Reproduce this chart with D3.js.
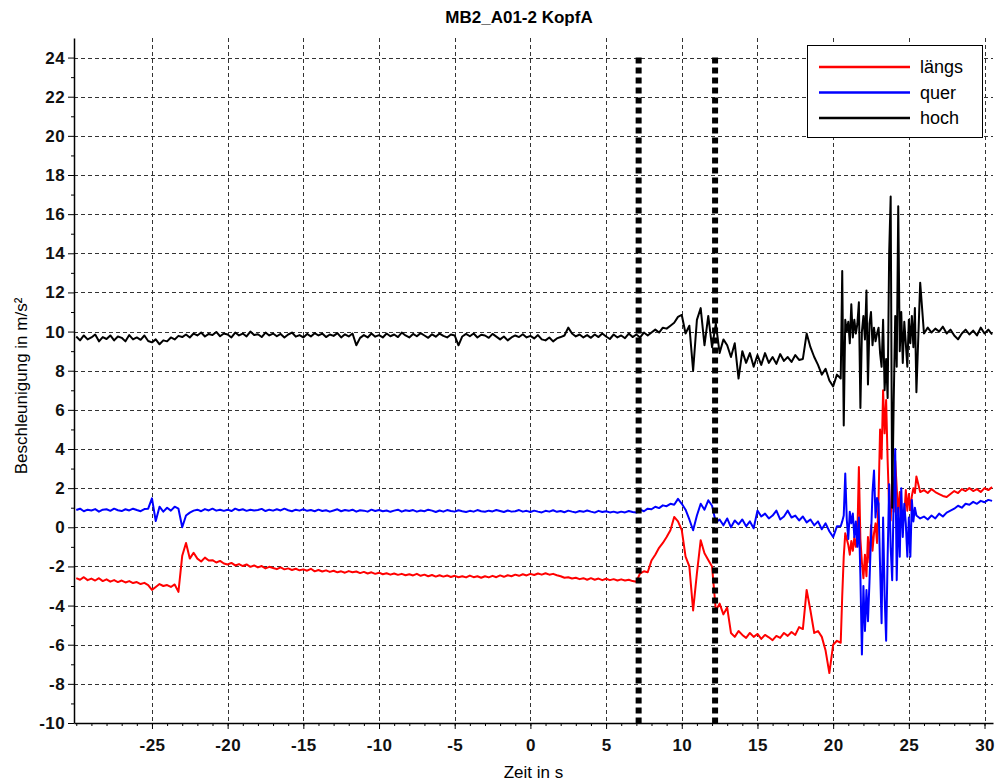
<!DOCTYPE html>
<html>
<head>
<meta charset="utf-8">
<script src="https://cdn.jsdelivr.net/npm/d3@7"></script>
<style>
  body { margin: 0; background: #fff; }
  svg { display: block; font-family: "Liberation Sans", Arial, sans-serif; }
  .axis text { font-size: 17px; font-weight: bold; letter-spacing: 0.4px; fill: #111; }
  .grid line { stroke: #333; stroke-dasharray: 4,3; shape-rendering: crispEdges; }
</style>
</head>
<body>
<div id="chart"></div>
<script>
// Sampling segments of the recording: [start, end, step] in seconds
const timeSegments = [[-30, 20.25, 0.25], [20.5, 25.4, 0.1], [25.5, 30.5, 0.25]];

// Cab-end markers (dotted vertical lines), seconds
const markers = [7.15, 12.2];

const xTicks = [-25, -20, -15, -10, -5, 0, 5, 10, 15, 20, 25, 30];
const yTicks = [-10, -8, -6, -4, -2, 0, 2, 4, 6, 8, 10, 12, 14, 16, 18, 20, 22, 24];

// längs (red), one row per second / per segment row
const laengs = [
  -2.6, -2.68, -2.55, -2.7,   // -30
  -2.62, -2.72, -2.6, -2.75,
  -2.66, -2.78, -2.7, -2.8,
  -2.72, -2.82, -2.75, -2.85,
  -2.8, -2.9, -2.84, -2.95,   // -26
  -3.2, -3.05, -2.9, -3.0,
  -2.95, -3.05, -2.92, -3.3,
  -1.45, -0.8, -1.6, -1.3,
  -1.6, -1.75, -1.55, -1.7,
  -1.68, -1.8, -1.72, -1.85,  // -21
  -1.9, -1.82, -1.95, -1.88,
  -1.98, -1.9, -2.02, -1.95,
  -2.05, -1.98, -2.1, -2.02,
  -2.08, -2.14, -2.05, -2.15,
  -2.1, -2.18, -2.12, -2.2,   // -16
  -2.15, -2.22, -2.12, -2.25,
  -2.18, -2.26, -2.2, -2.28,
  -2.22, -2.3, -2.25, -2.32,
  -2.24, -2.3, -2.26, -2.34,
  -2.28, -2.36, -2.3, -2.38,  // -11
  -2.32, -2.4, -2.35, -2.42,
  -2.36, -2.43, -2.38, -2.45,
  -2.4, -2.46, -2.38, -2.48,
  -2.42, -2.5, -2.44, -2.52,
  -2.45, -2.52, -2.46, -2.54, // -6
  -2.48, -2.55, -2.5, -2.56,
  -2.47, -2.55, -2.5, -2.58,
  -2.5, -2.56, -2.48, -2.55,
  -2.46, -2.53, -2.45, -2.5,
  -2.42, -2.48, -2.4, -2.46,  // -1
  -2.38, -2.44, -2.36, -2.42, // 0
  -2.35, -2.42, -2.38, -2.45,
  -2.5, -2.58, -2.55, -2.62,
  -2.58, -2.65, -2.6, -2.68,
  -2.6, -2.68, -2.62, -2.7,
  -2.63, -2.7, -2.65, -2.72,  // 5
  -2.66, -2.72, -2.68, -2.75,
  -2.78, -2.35, -2.25, -2.3,
  -1.7, -1.4, -1.05, -0.8,
  -0.5, -0.15, 0.53, 0.3,
  -0.15, -1.5, -2.0, -4.25,   // 10
  -2.35, -0.66, -1.33, -1.67,
  -2.0, -4.25, -3.9, -4.45,
  -4.1, -5.4, -5.6, -5.3,
  -5.5, -5.65, -5.4, -5.6,
  -5.45, -5.7, -5.5, -5.62,   // 15
  -5.77, -5.55, -5.65, -5.4,
  -5.55, -5.35, -5.5, -5.1,
  -5.2, -3.2, -4.25, -5.4,
  -5.3, -5.6, -6.3, -7.45,
  -6.0, -5.8,                 // 20.0 - 20.25
  -5.9, -3.5, -1.5, -0.3, -0.6,                     // 20.5 - 20.9
  -0.9, -1.4, -0.7, -1.2, -0.5, -1.0, -0.4, 3.08, -0.6, -1.8,
  -2.6, -1.4, -2.5, -0.5, -1.8, 0.1, -1.2, -0.3, 0.2, -0.8,
  1.5, 5.0, 3.5, 7.0, 4.8, 6.5, 3.4, 1.0, 0.35, 2.6,
  0.8, 3.4, 2.0, 0.6, 1.8, 0.7, 0.85, 0.6, 1.9, 0.85,
  1.7, 0.87, 1.6, 2.0, 1.75,                        // 25.0 - 25.4
  2.6, 1.8,                   // 25.5 - 25.75
  1.9, 1.75, 1.95, 1.8,
  1.7, 1.6, 1.55, 1.7,
  1.85, 1.75, 1.95, 1.85,
  2.0, 1.85, 1.95, 1.8,
  2.0, 1.9, 2.05              // 30.0 - 30.5
];

// quer (blue)
const quer = [
  0.88, 0.95, 0.82, 0.9,      // -30
  0.86, 0.93, 0.8, 0.9,
  0.92, 0.84, 0.95, 0.87,
  0.83, 0.92, 0.86, 0.95,
  0.88, 0.82, 0.93, 0.95,     // -26
  1.48, 0.32, 1.05, 0.8,
  1.0, 0.85, 1.05, 0.95,
  0.0, 0.6, 0.75, 0.85,
  0.9, 0.82, 0.93, 0.86,
  0.95, 0.85, 0.9, 0.84,      // -21
  0.9, 0.83, 0.95, 0.87,
  0.92, 0.84, 0.9, 0.86,
  0.88, 0.94, 0.83, 0.9,
  0.85, 0.92, 0.86, 0.95,
  0.87, 0.82, 0.9, 0.85,      // -16
  0.92, 0.84, 0.88, 0.82,
  0.9, 0.83, 0.87, 0.8,
  0.86, 0.92, 0.82, 0.88,
  0.84, 0.9, 0.8, 0.87,
  0.85, 0.8, 0.9, 0.83,       // -11
  0.88, 0.82, 0.86, 0.79,
  0.85, 0.9, 0.8, 0.87,
  0.83, 0.88, 0.8, 0.86,
  0.82, 0.9, 0.85, 0.78,
  0.86, 0.8, 0.88, 0.83,      // -6
  0.8, 0.87, 0.82, 0.78,
  0.84, 0.8, 0.88, 0.82,
  0.79, 0.85, 0.81, 0.88,
  0.83, 0.78, 0.86, 0.8,
  0.82, 0.88, 0.8, 0.84,      // -1
  0.78, 0.85, 0.8, 0.76,      // 0
  0.84, 0.8, 0.87, 0.79,
  0.83, 0.77, 0.85, 0.8,
  0.76, 0.83, 0.79, 0.86,
  0.8, 0.75, 0.84, 0.78,
  0.82, 0.76, 0.8, 0.74,      // 5
  0.8, 0.76, 0.83, 0.78,
  0.75, 0.9, 0.82, 0.95,
  0.92, 1.05, 0.98, 1.12,
  1.08, 1.2, 1.15, 1.45,
  1.2, 0.9, 0.4, -0.15,       // 10
  0.6, 1.2, 0.9, 1.38,
  1.1, 0.25, 0.4, 0.1,
  0.45, 0.0, 0.35, 0.15,
  0.4, 0.05, 0.3, -0.05,
  0.85, 0.55, 0.7, 0.45,      // 15
  0.6, 0.85, 0.4, 0.55,
  0.85, 0.5, 0.6, 0.35,
  0.55, 0.25, 0.4, 0.1,
  0.3, -0.1, 0.2, -0.2,
  -0.5, 0.05,                 // 20.0 - 20.25
  0.05, 0.3, 0.6, 2.75, 0.4,                        // 20.5 - 20.9
  -0.6, 0.8, 0.2, 0.7, -0.5, 0.3, -1.0, 0.5, -2.5, -6.5,
  -3.0, -5.3, -3.2, -4.8, -2.8, -0.5, 1.8, 2.9, 0.5, 1.5,
  1.2, -2.0, -4.9, 0.5, -3.5, -5.8, -1.5, 2.2, -1.0, -2.7,
  1.5, 4.0, -2.7, 1.0, -1.5, 2.0, -0.5, 1.2, 0.2, -1.5,
  0.5, -1.5, 1.4, 0.3, 1.0,                         // 25.0 - 25.4
  0.6, 0.45,                  // 25.5 - 25.75
  0.55, 0.4, 0.6, 0.45,
  0.7, 0.55, 0.75, 0.85,
  0.95, 1.1, 1.0, 1.2,
  1.15, 1.3, 1.2, 1.35,
  1.28, 1.4, 1.35             // 30.0 - 30.5
];

// hoch (black)
const hoch = [
  9.75, 9.55, 9.8, 9.6,       // -30
  9.7, 9.85, 9.5, 9.72,
  9.62, 9.8, 9.55, 9.75,
  9.68, 9.5, 9.82, 9.6,
  9.7, 9.58, 9.8, 9.52,       // -26
  9.45, 9.6, 9.35, 9.55,
  9.5, 9.7, 9.6, 9.78,
  9.72, 9.85, 9.7, 9.9,
  9.8, 9.95, 9.75, 9.88,
  9.82, 9.98, 9.76, 9.9,      // -21
  9.85, 9.7, 9.95, 9.8,
  9.9, 9.75, 10.0, 9.82,
  9.86, 9.72, 9.95, 9.8,
  9.9, 9.76, 9.88, 9.7,
  9.85, 9.95, 9.74, 9.82,     // -16
  9.7, 9.88, 9.75, 9.92,
  9.8, 9.9, 9.72, 9.85,
  9.78, 9.92, 9.7, 9.86,
  9.75, 9.9, 9.3, 9.68,
  9.82, 9.7, 9.9, 9.74,       // -11
  9.82, 9.7, 9.9, 9.76,
  9.85, 9.72, 9.95, 9.8,
  9.7, 9.88, 9.76, 9.92,
  9.8, 9.68, 9.86, 9.74,
  9.9, 9.78, 9.7, 9.85,       // -6
  9.8, 9.3, 9.75, 9.88,
  9.76, 9.9, 9.7, 9.84,
  9.8, 9.68, 9.88, 9.74,
  9.6, 9.75, 9.55, 9.7,
  9.8, 9.72, 9.86, 9.7,       // -1
  9.78, 9.65, 9.82, 9.6,      // 0
  9.55, 9.7, 9.5, 9.65,
  9.72, 9.8, 10.2, 9.9,
  9.75, 9.85, 9.7, 9.82,
  9.68, 9.85, 9.72, 9.9,
  9.75, 9.62, 9.85, 9.7,      // 5
  9.8, 9.66, 9.9, 9.72,
  9.85, 9.7, 9.95, 9.8,
  9.95, 10.1, 9.95, 10.2,
  10.15, 10.3, 10.45, 10.75,
  10.85, 9.9, 10.3, 8.0,      // 10
  10.6, 11.2, 9.3, 10.8,
  9.2, 10.4, 8.9, 9.6,
  9.3, 8.7, 9.4, 7.6,
  9.0, 8.4, 8.9, 8.2,
  8.8, 8.3, 8.9, 8.4,         // 15
  8.7, 8.35, 8.85, 8.5,
  8.7, 8.45, 8.8, 8.55,
  8.6, 9.9, 9.2, 8.7,
  8.3, 7.8, 8.1, 7.5,
  7.2, 7.8,                   // 20.0 - 20.25
  7.6, 13.1, 5.2, 10.6, 10.0,                       // 20.5 - 20.9
  10.5, 9.4, 11.4, 9.7, 10.6, 9.9, 10.4, 11.5, 6.1, 10.0,
  10.8, 9.6, 12.1, 7.3, 10.4, 11.0, 9.3, 10.2, 9.5, 9.9,
  10.2, 8.9, 8.2, 10.6, 7.0, 8.6, 6.6, 14.0, 16.9, 1.0,
  6.4, 10.8, 8.2, 16.4, 9.0, 11.0, 8.4, 10.5, 9.4, 8.2,
  10.6, 9.4, 10.8, 9.2, 11.2,                       // 25.0 - 25.4
  6.9, 12.5,                  // 25.5 - 25.75
  9.9, 10.2, 9.95, 10.15,
  10.0, 10.25, 9.9, 10.1,
  9.8, 9.6, 9.9, 10.1,
  9.85, 10.05, 9.8, 10.2,
  9.9, 10.1, 9.85             // 30.0 - 30.5
];

const seriesNames = ["längs", "quer", "hoch"];
const seriesColors = ["#ff0000", "#0000ff", "#000000"];

// ---------------- build the chart ---------------- //

// time stamps of the samples
const time = [];
timeSegments.forEach(([start, end, step]) => {
  const n = Math.round((end - start) / step);
  for (let i = 0; i <= n; i++) time.push(+(start + i * step).toFixed(3));
});

const width = 997,
  height = 783,
  padLeft = 74,
  padRight = 993,
  padTop = 38,
  padBottom = 723;

const svg = d3.select("#chart")
  .append("svg")
  .attr("width", width)
  .attr("height", height);

const xScale = d3.scaleLinear()
  .domain([-30.15, 30.56])
  .range([padLeft, padRight]);

const yScale = d3.scaleLinear()
  .domain([-10, 25])
  .range([padBottom, padTop]);

// dashed grid
const grid = svg.append("g").attr("class", "grid");
grid.selectAll("line.v")
  .data(xTicks)
  .enter()
  .append("line")
  .attr("class", "v")
  .attr("x1", d => Math.round(xScale(d)) + 0.5)
  .attr("x2", d => Math.round(xScale(d)) + 0.5)
  .attr("y1", padTop)
  .attr("y2", padBottom);

grid.selectAll("line.h")
  .data(yTicks.filter(d => d > -10))
  .enter()
  .append("line")
  .attr("class", "h")
  .attr("x1", padLeft)
  .attr("x2", padRight)
  .attr("y1", d => Math.round(yScale(d)) + 0.5)
  .attr("y2", d => Math.round(yScale(d)) + 0.5);

// data lines: längs, quer, hoch
const allSeries = [laengs, quer, hoch];
allSeries.forEach((vals, k) => {
  const n = Math.min(vals.length, time.length);
  if (vals.length !== time.length) console.warn(seriesNames[k], vals.length, time.length);
  const pts = d3.range(n).map(i => [time[i], vals[i]]);
  svg.append("path")
    .datum(pts)
    .attr("fill", "none")
    .attr("stroke", seriesColors[k])
    .attr("stroke-width", 2)
    .attr("stroke-linejoin", "round")
    .attr("d", d3.line().x(d => xScale(d[0])).y(d => yScale(d[1])));
});

// thick dotted marker lines
svg.append("g")
  .selectAll("line")
  .data(markers)
  .enter()
  .append("line")
  .attr("x1", d => xScale(d))
  .attr("x2", d => xScale(d))
  .attr("y1", yScale(24))
  .attr("y2", yScale(-10))
  .attr("stroke", "#000")
  .attr("stroke-width", 6)
  .attr("stroke-dasharray", "6,4");

// minor ticks
svg.append("g")
  .attr("transform", "translate(0," + padBottom + ")")
  .call(d3.axisBottom(xScale).tickValues(d3.range(-30, 31, 1)).tickSize(3).tickFormat(""))
  .call(g => g.select(".domain").remove());
svg.append("g")
  .attr("transform", "translate(" + padLeft + ",0)")
  .call(d3.axisLeft(yScale).tickValues(d3.range(-9, 25, 2)).tickSize(3).tickFormat(""))
  .call(g => g.select(".domain").remove());

// main axes (plain hyphen minus signs, as in the original)
svg.append("g")
  .attr("class", "x axis")
  .attr("transform", "translate(0," + padBottom + ")")
  .call(d3.axisBottom(xScale).tickValues(xTicks).tickSize(6).tickSizeOuter(0)
    .tickPadding(10).tickFormat(d => String(d)))
  .call(g => g.select(".domain").attr("stroke-width", 1.5));

svg.append("g")
  .attr("class", "y axis")
  .attr("transform", "translate(" + padLeft + ",0)")
  .call(d3.axisLeft(yScale).tickValues(yTicks).tickSize(6).tickSizeOuter(0)
    .tickPadding(3).tickFormat(d => String(d)))
  .call(g => g.select(".domain").attr("stroke-width", 1.5));

svg.selectAll(".axis text")
  .attr("font-family", null)
  .attr("font-size", null);

// titles
svg.append("text")
  .text("MB2_A01-2 KopfA")
  .attr("x", 519)
  .attr("y", 23)
  .attr("text-anchor", "middle")
  .style("font-size", "17px")
  .style("font-weight", "bold");

svg.append("text")
  .text("Zeit in s")
  .attr("x", (padLeft + padRight) / 2)
  .attr("y", 778)
  .attr("text-anchor", "middle")
  .style("font-size", "17px");

svg.append("text")
  .text("Beschleunigung in m/s²")
  .attr("transform", "translate(27,386) rotate(-90)")
  .attr("text-anchor", "middle")
  .style("font-size", "17px");

// legend
const legend = svg.append("g").attr("class", "legend");
legend.append("rect")
  .attr("x", 807.5)
  .attr("y", 45.5)
  .attr("width", 175)
  .attr("height", 92)
  .attr("fill", "#fff")
  .attr("stroke", "#000");

seriesNames.forEach((name, i) => {
  const y = 67 + i * 25.5;
  legend.append("line")
    .attr("x1", 819)
    .attr("x2", 910)
    .attr("y1", y)
    .attr("y2", y)
    .attr("stroke", seriesColors[i])
    .attr("stroke-width", 2.5);
  legend.append("text")
    .text(name)
    .attr("x", 920)
    .attr("y", y + 6)
    .style("font-size", "18px");
});
</script>
</body>
</html>
